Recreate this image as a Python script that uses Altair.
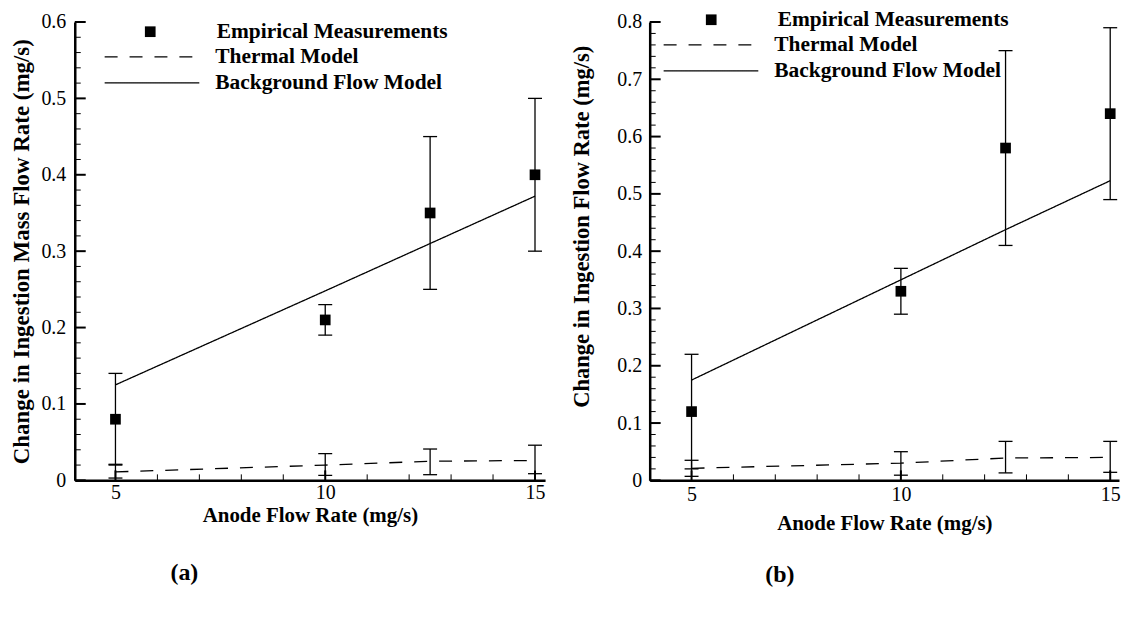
import altair as alt
import pandas as pd

FONT = "Liberation Serif"
SERIES = ["Empirical Measurements", "Thermal Model", "Background Flow Model"]

# anode flow rates (mg/s)
x_vals = [5, 10, 12.5, 15]

# ---- panel (a) ----
a_emp = [0.08, 0.21, 0.35, 0.40]
a_emp_lo = [0.02, 0.19, 0.25, 0.30]
a_emp_hi = [0.14, 0.23, 0.45, 0.50]
a_th = [0.011, 0.020, 0.025, 0.026]
a_th_lo = [0.003, 0.0065, 0.0074, 0.0087]
a_th_hi = [0.021, 0.035, 0.041, 0.046]
a_bg = [0.125, 0.248, 0.310, 0.372]

# ---- panel (b) ----
b_emp = [0.12, 0.33, 0.58, 0.64]
b_emp_lo = [0.02, 0.29, 0.41, 0.49]
b_emp_hi = [0.22, 0.37, 0.75, 0.79]
b_th = [0.021, 0.030, 0.039, 0.040]
b_th_lo = [0.007, 0.009, 0.013, 0.014]
b_th_hi = [0.035, 0.050, 0.068, 0.068]
b_bg = [0.175, 0.350, 0.4375, 0.523]

# tick labels / tick positions
x_major = [5, 10, 15]
x_minor = [6, 7, 8, 9, 11, 12, 13, 14]
a_y_major = [0, 0.1, 0.2, 0.3, 0.4, 0.5, 0.6]
b_y_major = [0, 0.1, 0.2, 0.3, 0.4, 0.5, 0.6, 0.7, 0.8]
a_y_minor = [round(k * 0.02, 2) for k in range(1, 30) if k % 5]
b_y_minor = [round(k * 0.02, 2) for k in range(1, 40) if k % 5]


def panel(emp, lo, hi, th, thlo, thhi, bg, ymajor, yminor, ytitle, c):
    W, H = c["W"], c["H"]
    emp_df = pd.DataFrame({"x": x_vals, "y": emp, "lo": lo, "hi": hi,
                           "series": SERIES[0]})
    model_df = pd.DataFrame({"x": x_vals * 2, "y": th + bg,
                             "series": [SERIES[1]] * 4 + [SERIES[2]] * 4})
    th_df = pd.DataFrame({"x": x_vals, "lo": thlo, "hi": thhi})

    xs = alt.Scale(domain=c["xdom"], nice=False, zero=False)
    ys = alt.Scale(domain=[0, ymajor[-1]], nice=False, zero=False)

    main_x = alt.Axis(orient="bottom", values=x_major, format="d", ticks=False,
                      tickSize=0, grid=False, domainColor="black", domainWidth=2.5,
                      labelFont=FONT, labelFontSize=20, labelColor="black",
                      labelPadding=c["xlabpad"], title="Anode Flow Rate (mg/s)",
                      titleFont=FONT, titleFontSize=21, titleFontWeight="bold",
                      titleColor="black", titlePadding=c["xtitlepad"])
    yargs = dict(orient="left", values=ymajor, format="~g", ticks=False, tickSize=0,
                 grid=False, domainColor="black", domainWidth=2.5,
                 labelFont=FONT, labelFontSize=20, labelColor="black",
                 labelPadding=c["ylabpad"], title=ytitle, titleFont=FONT,
                 titleFontSize=c["ytfs"], titleFontWeight="bold", titleColor="black",
                 titlePadding=c["ytitlepad"])
    if c.get("titleY") is not None:
        yargs["titleY"] = c["titleY"]
    main_y = alt.Axis(**yargs)

    lines = alt.Chart(model_df).mark_line(color="black", strokeWidth=1.3).encode(
        x=alt.X("x:Q", scale=xs, axis=main_x),
        y=alt.Y("y:Q", scale=ys, axis=main_y),
        strokeDash=alt.StrokeDash(
            "series:N",
            scale=alt.Scale(domain=SERIES[1:], range=[[13, 12], [1, 0]]),
            legend=alt.Legend(title=None, orient="none", legendX=c["lx2"],
                              legendY=c["ly2"], direction="vertical",
                              symbolType="stroke", symbolSize=9025,
                              symbolStrokeColor="black", symbolStrokeWidth=1.3,
                              clipHeight=26, rowPadding=0, padding=0,
                              labelFont=FONT, labelFontSize=21.5,
                              labelFontWeight="bold", labelColor="black",
                              labelOffset=c["lo2"], labelLimit=400)),
    )

    # inward-pointing axis ticks
    xmaj = alt.Chart(pd.DataFrame({"v": x_major})).mark_rule(
        color="black", strokeWidth=2).encode(
        x=alt.X("v:Q", scale=xs, axis=None), y=alt.value(H), y2=alt.value(H - 10))
    xmin = alt.Chart(pd.DataFrame({"v": x_minor})).mark_rule(
        color="black", strokeWidth=1).encode(
        x=alt.X("v:Q", scale=xs, axis=None), y=alt.value(H), y2=alt.value(H - 6))
    ymaj = alt.Chart(pd.DataFrame({"v": ymajor})).mark_rule(
        color="black", strokeWidth=2).encode(
        y=alt.Y("v:Q", scale=ys, axis=None), x=alt.value(0), x2=alt.value(11))
    ymin = alt.Chart(pd.DataFrame({"v": yminor})).mark_rule(
        color="black", strokeWidth=1).encode(
        y=alt.Y("v:Q", scale=ys, axis=None), x=alt.value(0), x2=alt.value(6))

    th_rules = alt.Chart(th_df).mark_rule(color="black", strokeWidth=1.3).encode(
        x=alt.X("x:Q", scale=xs, axis=None),
        y=alt.Y("lo:Q", scale=ys, axis=None),
        y2="hi:Q",
    )
    th_caps = alt.Chart(th_df).transform_fold(["lo", "hi"], as_=["k", "v"]).mark_tick(
        orient="horizontal", size=14, thickness=1.3, color="black", opacity=1
    ).encode(
        x=alt.X("x:Q", scale=xs, axis=None),
        y=alt.Y("v:Q", scale=ys, axis=None),
    )

    emp_rules = alt.Chart(emp_df).mark_rule(color="black", strokeWidth=1.3).encode(
        x=alt.X("x:Q", scale=xs, axis=None),
        y=alt.Y("lo:Q", scale=ys, axis=None),
        y2="hi:Q",
    )
    emp_caps = alt.Chart(emp_df).transform_fold(["lo", "hi"], as_=["k", "v"]).mark_tick(
        orient="horizontal", size=14, thickness=1.3, color="black", opacity=1
    ).encode(
        x=alt.X("x:Q", scale=xs, axis=None),
        y=alt.Y("v:Q", scale=ys, axis=None),
    )

    points = alt.Chart(emp_df).mark_point(filled=True, color="black", size=115,
                                          opacity=1).encode(
        x=alt.X("x:Q", scale=xs, axis=None),
        y=alt.Y("y:Q", scale=ys, axis=None),
        shape=alt.Shape(
            "series:N",
            scale=alt.Scale(domain=[SERIES[0]], range=["square"]),
            legend=alt.Legend(title=None, orient="none", legendX=c["lx1"],
                              legendY=c["ly1"], symbolSize=115,
                              symbolFillColor="black", symbolStrokeColor="black",
                              symbolStrokeWidth=0, symbolOpacity=1, padding=0,
                              labelFont=FONT, labelFontSize=21.5,
                              labelFontWeight="bold", labelColor="black",
                              labelOffset=c["lo1"], labelLimit=400)),
    )

    return alt.layer(lines, xmaj, xmin, ymaj, ymin, th_rules, th_caps,
                     emp_rules, emp_caps, points).resolve_axis(
        x="independent", y="independent"
    ).properties(
        width=W, height=H,
        title=alt.TitleParams(c["label"], orient="bottom", anchor="start",
                              frame="group", dx=c["tdx"], offset=c["toff"],
                              font=FONT, fontSize=24, fontWeight="bold",
                              color="black"),
    )


cfg_a = dict(W=472, H=460, xdom=[4.03, 15.24], xlabpad=2, xtitlepad=2,
             ylabpad=9, ytitlepad=7, titleY=None, ytfs=23,
             lx1=65, ly1=-1, lo1=56, lx2=29, ly2=22, lo2=15,
             label="(a)", tdx=96, toff=36)
cfg_b = dict(W=471, H=460, xdom=[4.0, 15.21], xlabpad=4, xtitlepad=8,
             ylabpad=8, ytitlepad=23, titleY=205, ytfs=22.6,
             lx1=51, ly1=-13, lo1=56, lx2=13, ly2=10, lo2=15,
             label="(b)", tdx=116, toff=30)

pa = panel(a_emp, a_emp_lo, a_emp_hi, a_th, a_th_lo, a_th_hi, a_bg,
           a_y_major, a_y_minor, "Change in Ingestion Mass Flow Rate (mg/s)", cfg_a)
pb = panel(b_emp, b_emp_lo, b_emp_hi, b_th, b_th_lo, b_th_hi, b_bg,
           b_y_major, b_y_minor, "Change in Ingestion Flow Rate (mg/s)", cfg_b)

chart = alt.hconcat(pa, pb, spacing=26).resolve_scale(
    shape="independent", strokeDash="independent"
).resolve_legend(
    shape="independent", strokeDash="independent"
).properties(
    padding={"left": 3, "top": 0, "right": 0, "bottom": 0},
    background="white",
).configure_view(stroke=None).configure_axis(
    labelFont=FONT, titleFont=FONT
)

chart.save("out.html", embed_options={"renderer": "svg", "actions": False})
